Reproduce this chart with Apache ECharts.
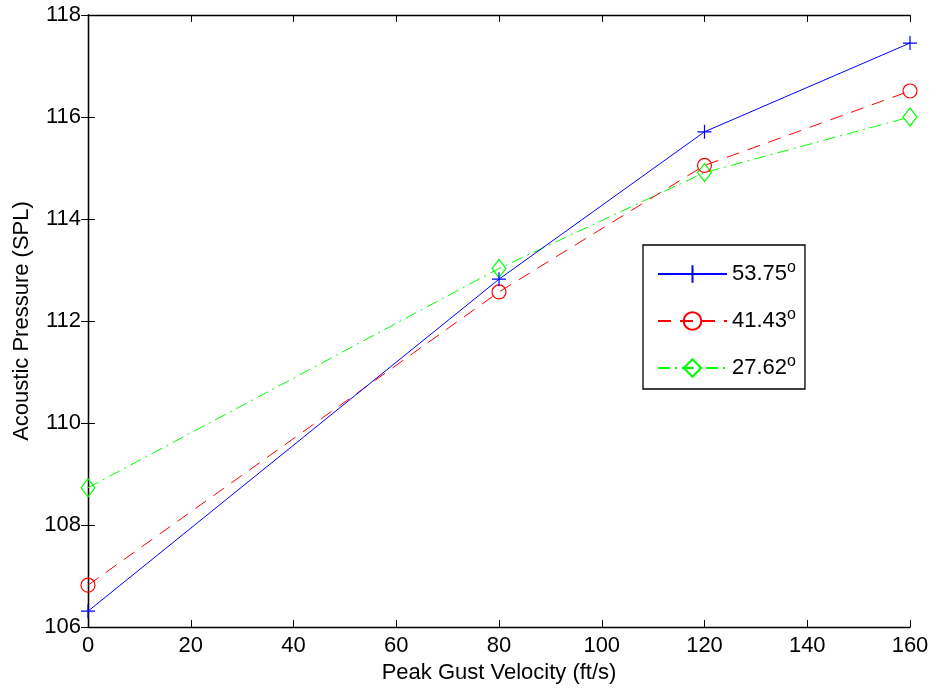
<!DOCTYPE html>
<html>
<head>
<meta charset="utf-8">
<script src="https://cdn.jsdelivr.net/npm/echarts@6/dist/echarts.min.js"></script>
<style>html,body{margin:0;padding:0;background:#fff;}#c{width:932px;height:690px;}</style>
</head>
<body>
<div id="c"></div>
<script>
const velocity = [0, 80, 120, 160];
const names = ['53.75', '41.43', '27.62'];
const p5375 = [106.31, 112.82, 115.71, 117.45];
const p4143 = [106.82, 112.57, 115.05, 116.51];
const p2762 = [108.73, 113.03, 114.91, 116.00];
const xTicks = [0, 20, 40, 60, 80, 100, 120, 140, 160];
const yTicks = [106, 108, 110, 112, 114, 116, 118];

const FONT = 'Liberation Sans';
const FS = 22;
const chart = echarts.init(document.getElementById('c'), null, {renderer: 'canvas'});

function pairs(ys) { return velocity.map((v, i) => [v, ys[i]]); }

const axisLine = {show: true, lineStyle: {color: '#000', width: 1.3}};
const tick = {show: true, inside: true, length: 7, lineStyle: {color: '#000', width: 1}};

const plusPath = 'path://M6,0 L6,12 M0,6 L12,6';
const diamondPath = 'path://M7,0 L14,9 L7,18 L0,9 Z';

chart.setOption({
  animation: false,
  backgroundColor: '#fff',
  grid: {left: 88, right: 22, top: 15, bottom: 63, containLabel: false},
  xAxis: [{
    type: 'value', min: xTicks[0], max: xTicks[xTicks.length - 1], interval: 20,
    name: 'Peak Gust Velocity (ft/s)', nameLocation: 'middle', nameGap: 28,
    nameTextStyle: {fontFamily: FONT, fontSize: FS, color: '#000'},
    axisLine: axisLine, axisTick: tick, splitLine: {show: false},
    axisLabel: {fontFamily: FONT, fontSize: FS, color: '#000', margin: 8}
  }, {
    type: 'value', position: 'top', min: xTicks[0], max: xTicks[xTicks.length - 1], interval: 20,
    axisLine: axisLine, axisTick: tick, splitLine: {show: false}, axisLabel: {show: false}
  }],
  yAxis: [{
    type: 'value', min: yTicks[0], max: yTicks[yTicks.length - 1], interval: 2,
    name: 'Acoustic Pressure (SPL)', nameLocation: 'middle', nameGap: 48,
    nameTextStyle: {fontFamily: FONT, fontSize: FS, color: '#000'},
    axisLine: axisLine, axisTick: tick, splitLine: {show: false},
    axisLabel: {fontFamily: FONT, fontSize: FS, color: '#000', margin: 7}
  }, {
    type: 'value', position: 'right', min: yTicks[0], max: yTicks[yTicks.length - 1], interval: 2,
    axisLine: axisLine, axisTick: tick, splitLine: {show: false}, axisLabel: {show: false}
  }],
  legend: {
    orient: 'vertical', left: 643, top: 245,
    padding: [15, 9, 7, 14],
    borderColor: '#000', borderWidth: 1.3, backgroundColor: '#fff',
    itemWidth: 69, itemHeight: 22, itemGap: 19,
    data: names,
    formatter: n => '{a|' + n + '}{s|o}',
    textStyle: {
      fontFamily: FONT, fontSize: FS, color: '#000',
      rich: {
        a: {fontFamily: FONT, fontSize: FS, color: '#000', lineHeight: 22},
        s: {fontFamily: FONT, fontSize: 16, color: '#000', padding: [0, 0, 12, 0], lineHeight: 22}
      }
    }
  },
  series: [{
    name: names[0], type: 'line', data: pairs(p5375),
    symbol: plusPath, symbolSize: 14,
    lineStyle: {color: '#0000ff', width: 1, type: 'solid'},
    itemStyle: {color: 'rgba(0,0,0,0)', borderColor: '#0000ff', borderWidth: 1.2},
    emphasis: {disabled: true}, z: 3
  }, {
    name: names[1], type: 'line', data: pairs(p4143),
    symbol: 'circle', symbolSize: 14,
    lineStyle: {color: '#ff0000', width: 1, type: [13, 9]},
    itemStyle: {color: 'rgba(0,0,0,0)', borderColor: '#ff0000', borderWidth: 1.2},
    emphasis: {disabled: true}, z: 2
  }, {
    name: names[2], type: 'line', data: pairs(p2762),
    symbol: diamondPath, symbolSize: [14, 18],
    lineStyle: {color: '#00ff00', width: 1, type: [12, 5, 2, 5]},
    itemStyle: {color: 'rgba(0,0,0,0)', borderColor: '#00ff00', borderWidth: 1.2},
    emphasis: {disabled: true}, z: 1
  }]
});
</script>
</body>
</html>
